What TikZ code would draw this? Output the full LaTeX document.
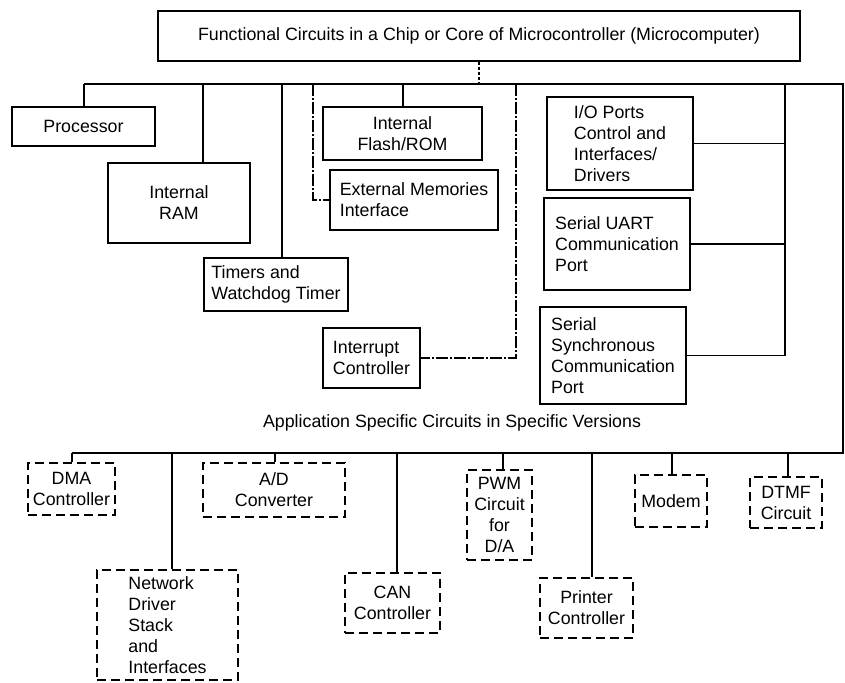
\documentclass[tikz,border=0pt]{standalone}
\usepackage{fontspec}
\setmainfont{Liberation Sans}
\usepackage{tikz}
\usetikzlibrary{positioning}

\begin{document}
\begin{tikzpicture}[x=1pt, y=-1pt,
    every node/.style={font=\fontsize{17.8}{21}\selectfont, inner sep=2pt},
    size/.style 2 args={minimum width=#1pt, minimum height=#2pt},
    unit/.style={draw, line width=1.2pt, align=center},
    unitl/.style={unit, align=left},
    opt/.style={unit, dash pattern=on 9pt off 5pt},
    optl/.style={opt, align=left},
    wire/.style={line width=1.2pt},
    broken/.style={wire, dash pattern=on 12pt off 2pt on 2pt off 2pt}
  ]
  \useasboundingbox (0,0) rectangle (845,682);

  % chip and core blocks
  \node[unit, size={642}{50}] (chip) at (479,36) {Functional Circuits in a Chip or Core of Microcontroller (Microcomputer)};
  \node[unit, size={143}{39}] (proc) at (83.5,126.5) {Processor};
  \node[unit, size={142}{80}] (ram) at (179,203) {Internal\\RAM};
  \node[unitl, size={144}{53}] (timers) at (276,284.5) {Timers and\\Watchdog Timer};
  \node[unit, size={159}{53}] (flash) at (402.5,133.5) {Internal\\Flash/ROM};
  \node[unitl, size={168}{60}] (extmem) at (414,200) {External Memories\\Interface};
  \node[unitl, size={97}{60}] (intr) at (371.5,358) {Interrupt\\Controller};
  \node[unitl, size={146}{93}] (io) at (620,143.5) {I/O Ports\\Control and\\Interfaces/\\Drivers};
  \node[unitl, size={146}{92}] (uart) at (617,244) {Serial UART\\Communication\\Port};
  \node[unitl, size={146}{97}] (sync) at (613,355.5) {Serial\\Synchronous\\Communication\\Port};

  \node (app) at (452,423) {Application Specific Circuits in Specific Versions};

  % optional blocks
  \node[opt, size={87}{52}] (dma) at (71.5,489) {DMA\\Controller};
  \node[optl, size={141}{110}] (net) at (167.5,625) {Network\\Driver\\Stack\\and\\Interfaces};
  \node[opt, size={142}{54}] (adc) at (274,490) {A/D\\Converter};
  \node[opt, size={95}{60}] (can) at (392.5,603) {CAN\\Controller};
  \node[opt, size={65}{90}] (pwm) at (499.5,515) {PWM\\Circuit\\for\\D/A};
  \node[opt, size={93}{60}] (prn) at (586.5,608) {Printer\\Controller};
  \node[opt, size={72}{52}] (modem) at (671,501) {Modem};
  \node[opt, size={72}{51}] (dtmf) at (786,502.5) {DTMF\\Circuit};

  % buses
  \coordinate (tl) at (84,84);
  \coordinate (tr) at (843,84);
  \coordinate (br) at (843,453);
  \coordinate (bl) at (72,453);
  \draw[wire] (tl) -- (tr) -- (br) -- (bl);
  \draw[wire, dash pattern=on 3pt off 2pt] (chip.south) -- (chip.south |- tl);

  \foreach \bx/\bn in {84/proc, 203/ram, 282/timers, 403/flash} {
    \coordinate (b) at (\bx,84);
    \draw[wire] (b) -- (b |- \bn.north);
  }
  \coordinate (xm) at (313,84);
  \coordinate (xi) at (516,84);
  \coordinate (xs) at (785,84);
  \draw[broken] (xm) |- (extmem.west);
  \draw[broken] (xi) |- (intr.east);
  \draw[wire] (xs) |- (sync.east);
  \draw[wire] (io.east) -- (io.east -| xs);
  \draw[wire] (uart.east) -- (uart.east -| xs);

  \foreach \bx/\bn in {72/dma, 172/net, 275/adc, 397/can, 503/pwm, 592/prn, 672/modem, 788/dtmf} {
    \coordinate (b) at (\bx,453);
    \draw[wire] (b) -- (b |- \bn.north);
  }
\end{tikzpicture}
\end{document}
